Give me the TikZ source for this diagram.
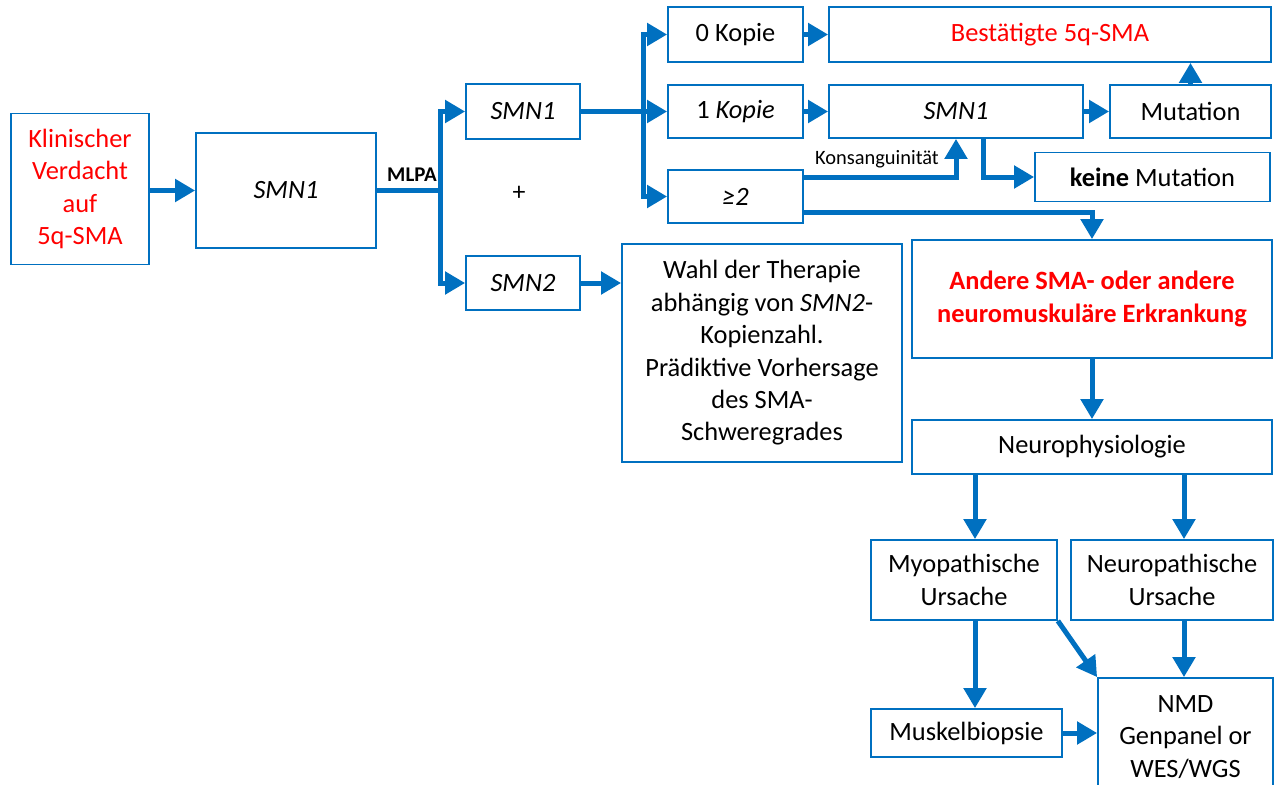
\documentclass[tikz,border=0pt]{standalone}
\usepackage{fontspec}
\setmainfont{Carlito}
\usetikzlibrary{arrows.meta}
\definecolor{sblue}{RGB}{0,112,192}

\begin{document}
\begin{tikzpicture}[x=1bp,y=-1bp,
	box/.style={draw=sblue, line width=1.8bp, align=center, inner sep=0pt, font=\fontsize{26.5}{32.5}\selectfont},
	flow/.style={draw=sblue, line width=5bp, -{Triangle[length=20bp,width=22bp]}},
	bus/.style={draw=sblue, line width=5bp}]
\useasboundingbox (0,0) rectangle (1274,785);
% left part
	\node[box, text=red, minimum width=138bp, minimum height=151bp] (klin) at (80,189) {Klinischer\\Verdacht\\auf\\5q-SMA};
	\node[box, minimum width=180bp, minimum height=115bp] (smnA) at (286,190.5) {\textit{SMN1}};
	\node[font=\fontsize{21}{24}\selectfont\bfseries] (mlpa) at (412,175) {MLPA};
	\node[box, minimum width=114bp, minimum height=55bp] (smnB) at (523,111.5) {\textit{SMN1}};
	\node[font=\fontsize{26}{30}\selectfont] (plus) at (519,193) {+};
	\node[box, minimum width=114bp, minimum height=54bp] (smnC) at (523,283) {\textit{SMN2}};
	\node[box, minimum width=280bp, minimum height=218bp] (wahl) at (762,353) {Wahl der Therapie\\abhängig von \textit{SMN2}-\\Kopienzahl.\\Prädiktive Vorhersage\\des SMA-\\Schweregrades};
% copies
	\node[box, minimum width=135bp, minimum height=55bp] (zero) at (735.5,34.5) {0 Kopie};
	\node[box, minimum width=135bp, minimum height=53bp] (one) at (735.5,111.5) {1 \textit{Kopie}};
	\node[box, minimum width=135bp, minimum height=53bp] (two) at (735.5,196.5) {\textit{≥2}};
	\node[box, text=red, minimum width=442bp, minimum height=55bp] (best) at (1050,34.5) {Bestätigte 5q-SMA};
	\node[box, minimum width=254bp, minimum height=53bp] (smnD) at (956,111.5) {\textit{SMN1}};
	\node[box, minimum width=161bp, minimum height=53bp] (mut) at (1190.5,111.5) {Mutation};
	\node[box, minimum width=235bp, minimum height=49bp] (keine) at (1152.5,177) {\textbf{keine} Mutation};
	\node[font=\fontsize{20.5}{24}\selectfont] (konsa) at (877,159) {Konsanguinität};
% right part
	\node[box, text=red, font=\fontsize{26.5}{33}\selectfont\bfseries, minimum width=360bp, minimum height=118bp] (andere) at (1092,299) {Andere SMA- oder andere\\neuromuskuläre Erkrankung};
	\node[box, minimum width=360bp, minimum height=54bp] (neuro) at (1092,447) {Neurophysiologie};
	\node[box, minimum width=186bp, minimum height=80bp] (myo) at (964,580) {Myopathische\\Ursache};
	\node[box, minimum width=202bp, minimum height=80bp] (neuroP) at (1172,580) {Neuropathische\\Ursache};
	\node[box, minimum width=191bp, minimum height=48bp] (muskel) at (966.5,733) {Muskelbiopsie};
	\node[box, minimum width=175bp, minimum height=118bp] (nmd) at (1185.5,737) {NMD\\Genpanel or\\WES/WGS};
\coordinate (busA) at (440,190.5);
\coordinate (busB) at (643,111.5);
\draw[flow] (klin.east |- smnA) -- (smnA.west);
\draw[bus] (smnA.east) -- (busA);
\draw[flow] (busA) |- (smnB.west);
\draw[flow] (busA) |- (smnC.west);
\draw[flow] (smnC.east) -- (smnC.east -| wahl.west);
\draw[bus] (smnB.east) -- (busB);
\draw[flow] (busB) |- (zero.west);
\draw[flow] (busB) -- (one.west);
\draw[flow] (busB) |- (two.west);
\draw[flow] (zero) -- (best);
\draw[flow] (one) -- (smnD);
\draw[flow] (smnD) -- (mut);
\draw[flow] (mut.north) -- (mut.north |- best.south);
\draw[flow] ([yshift=-8bp]two.north east) -| (smnD.south);
\draw[flow] ([xshift=27bp]smnD.south) |- (keine.west);
\draw[flow] ([yshift=11bp]two.south east) -| (andere.north);
\draw[flow] (andere) -- (neuro);
\draw[flow] ([xshift=11bp]myo.north |- neuro.south) -- ([xshift=11bp]myo.north);
\draw[flow] ([xshift=12bp]neuroP.north |- neuro.south) -- ([xshift=12bp]neuroP.north);
\draw[flow] ([xshift=11bp]myo.south) -- ([xshift=11bp]myo.south |- muskel.north);
\draw[flow] (myo.south east) -- (nmd.north west);
\draw[flow] ([xshift=12bp]neuroP.south) -- ([xshift=12bp]neuroP.south |- nmd.north);
\draw[flow] (muskel.east) -- (muskel.east -| nmd.west);
\end{tikzpicture}
\end{document}
